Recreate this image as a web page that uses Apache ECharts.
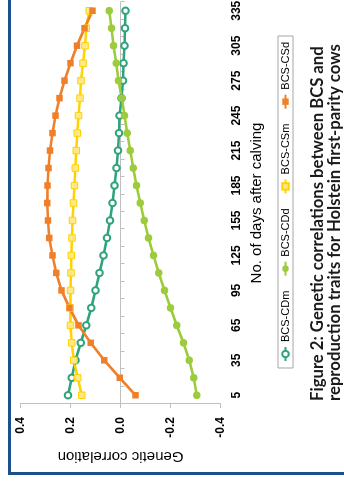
<!DOCTYPE html>
<html><head><meta charset="utf-8">
<script src="https://cdn.jsdelivr.net/npm/echarts@6/dist/echarts.min.js"></script>
<style>
html,body{margin:0;padding:0;background:#fff;overflow:hidden;width:344px;height:486px;}
#wrap{position:absolute;left:0;top:0;width:486px;height:344px;transform-origin:0 0;transform:translate(0px,486px) rotate(-90deg);}
#chart{width:486px;height:344px;}
</style></head><body>
<div id="wrap"><div id="chart"></div></div>
<script>
// Days after calving (categories)
const days = [5,20,35,50,65,80,95,110,125,140,155,170,185,200,215,230,245,260,275,290,305,320,335];
// Value axis ticks
const valueTicks = [-0.4,-0.2,0.0,0.2,0.4];
// Series values
const bcsCDm = [0.21,0.195,0.18,0.159,0.137,0.117,0.1,0.084,0.068,0.054,0.042,0.032,0.024,0.016,0.01,0.006,0.004,-0.004,-0.01,-0.012,-0.016,-0.018,-0.02];
const bcsCDd = [-0.305,-0.293,-0.275,-0.252,-0.225,-0.2,-0.176,-0.153,-0.132,-0.112,-0.095,-0.079,-0.064,-0.051,-0.039,-0.027,-0.016,-0.005,0.008,0.017,0.028,0.036,0.045];
const bcsCSm = [0.155,0.171,0.187,0.195,0.2,0.201,0.2,0.198,0.197,0.194,0.192,0.188,0.184,0.181,0.177,0.173,0.168,0.162,0.158,0.15,0.142,0.137,0.125];
const bcsCSd = [-0.06,0.003,0.065,0.119,0.168,0.204,0.236,0.257,0.272,0.285,0.29,0.293,0.292,0.288,0.282,0.272,0.26,0.244,0.224,0.2,0.174,0.144,0.112];
const seriesNames = ['BCS-CDm','BCS-CDd','BCS-CSm','BCS-CSd'];
const captionLines = ['Figure 2: Genetic correlations between BCS and','reproduction traits for Holstein first-parity cows'];

const narrow = "'Liberation Sans Narrow','Arial Narrow','Liberation Sans',sans-serif";
const sans = "'Liberation Sans',Arial,sans-serif";
const axisGray = '#bfbfbf';
const blue = '#1d4f8c';

const chart = echarts.init(document.getElementById('chart'));
chart.setOption({
  animation: false,
  backgroundColor: '#fff',
  title: {
    text: captionLines.join('\n'),
    left: 85, top: 309, padding: 0,
    textStyle: {fontFamily: 'Lato', fontWeight: 'bold', fontSize: 16.7, lineHeight: 17, color: '#1a1a1a'}
  },
  graphic: [
    {type: 'rect', shape: {x: 11, y: 8, width: 475, height: 3}, style: {fill: blue}, silent: true},
    {type: 'rect', shape: {x: 11, y: 8, width: 3, height: 336}, style: {fill: blue}, silent: true}
  ],
  legend: {
    data: seriesNames,
    top: 278, left: 118,
    itemWidth: 14, itemHeight: 8, itemGap: 14,
    padding: [2, 6, 2, 6],
    borderColor: '#a6a6a6', borderWidth: 1,
    textStyle: {fontFamily: sans, fontSize: 11, color: '#000'}
  },
  grid: {left: 82, right: 2, top: 20.5, height: 200, containLabel: false, outerBoundsMode: 'none'},
  xAxis: [
    {
      type: 'category', data: days, boundaryGap: true,
      axisLine: {onZero: true, lineStyle: {color: axisGray, width: 1}},
      axisTick: {show: true, interval: 0, length: 4, lineStyle: {color: axisGray}},
      axisLabel: {show: false}, splitLine: {show: false}
    },
    {
      type: 'category', data: days, boundaryGap: true, position: 'bottom',
      axisLine: {show: false, onZero: false}, axisTick: {show: false},
      axisLabel: {interval: 1, fontFamily: narrow, fontWeight: 'bold', fontSize: 12, color: '#000', margin: 10},
      splitLine: {show: false},
      name: 'No. of days after calving', nameLocation: 'middle', nameGap: 29,
      nameTextStyle: {fontFamily: sans, fontSize: 15, color: '#000'}
    }
  ],
  yAxis: {
    type: 'value', min: valueTicks[0], max: valueTicks[valueTicks.length - 1], interval: 0.2,
    splitLine: {show: false},
    axisLine: {show: true, lineStyle: {color: axisGray}},
    axisTick: {show: true, length: 4, lineStyle: {color: axisGray}},
    axisLabel: {formatter: v => v.toFixed(1), fontFamily: narrow, fontWeight: 'bold', fontSize: 12, color: '#000', margin: 13},
    name: 'Genetic correlation', nameLocation: 'middle', nameRotate: 90, nameGap: 43,
    nameTextStyle: {fontFamily: sans, fontSize: 15, color: '#000'}
  },
  series: [
    {name: seriesNames[0], type: 'line', data: bcsCDm, symbol: 'emptyCircle', symbolSize: 6.5,
     lineStyle: {width: 2.7, color: '#2fa37c'}, itemStyle: {color: '#2fa37c', borderWidth: 1}},
    {name: seriesNames[1], type: 'line', data: bcsCDd, symbol: 'circle', symbolSize: 7.5,
     lineStyle: {width: 2.7, color: '#9ccb3c'}, itemStyle: {color: '#9ccb3c'}},
    {name: seriesNames[2], type: 'line', data: bcsCSm, symbol: 'rect', symbolSize: 6.5,
     lineStyle: {width: 2.7, color: '#ffd200'}, itemStyle: {color: '#ffe98a', borderColor: '#ffd200', borderWidth: 1}},
    {name: seriesNames[3], type: 'line', data: bcsCSd, symbol: 'rect', symbolSize: 6.5,
     lineStyle: {width: 2.7, color: '#f07f2a'}, itemStyle: {color: '#f07f2a'}}
  ]
});
</script>
</body></html>
